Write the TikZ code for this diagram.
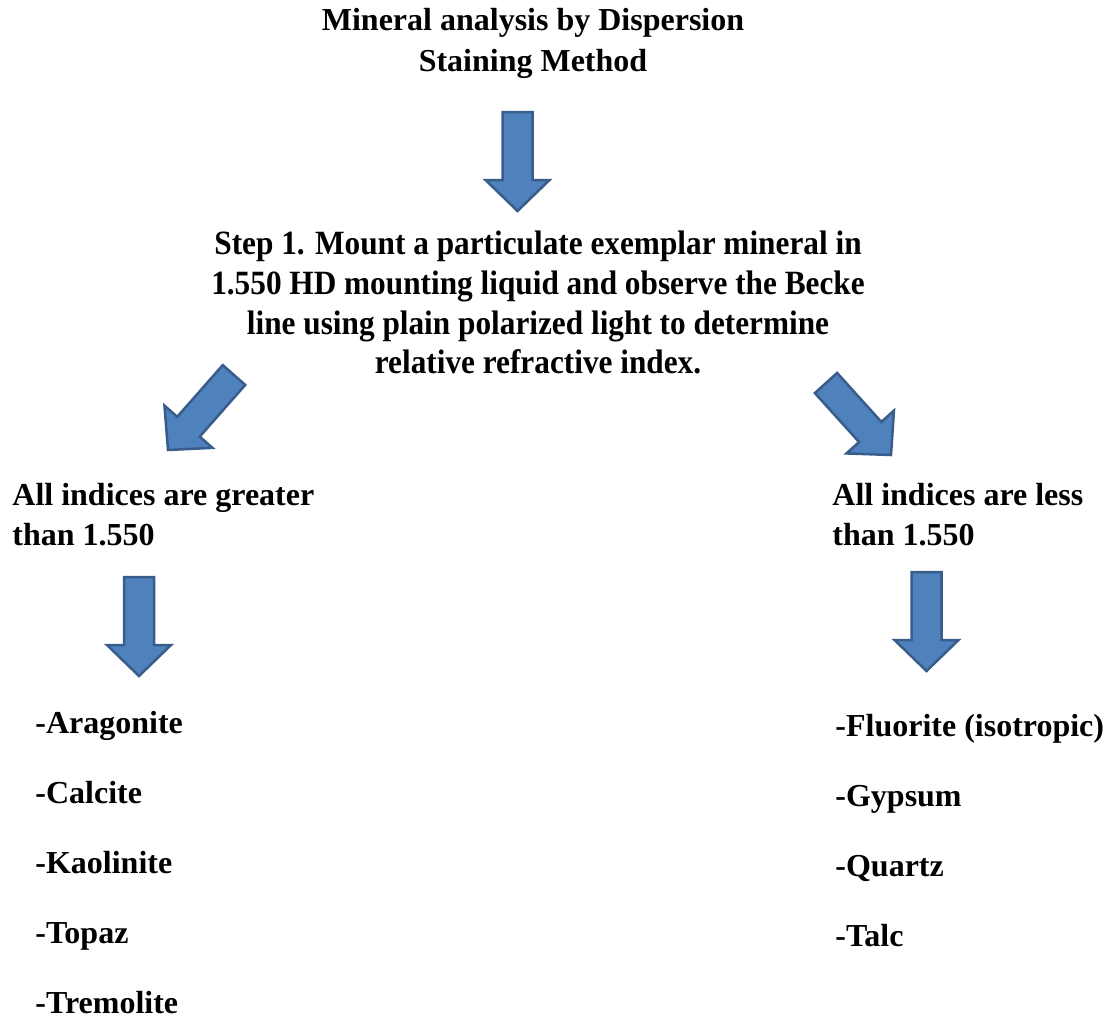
\documentclass[tikz,border=0pt]{standalone}
\usepackage{fontspec}
\setmainfont{Liberation Serif}
\newfontfamily\stepfont{Liberation Serif}[FakeStretch=0.92]
\usetikzlibrary{calc}
\definecolor{arrowfill}{HTML}{4F81BD}
\definecolor{arrowline}{HTML}{385D8A}

\begin{document}
\begin{tikzpicture}[x=0.5pt,y=-0.5pt]
        \tikzstyle{heading}=[inner sep=0pt, align=center, font=\fontsize{16}{20.5}\selectfont\bfseries]
        \tikzstyle{steptext}=[inner sep=0pt, align=center, font=\stepfont\fontsize{17}{19.8}\selectfont\bfseries]
        \tikzstyle{branch}=[inner sep=0pt, align=left, anchor=north west, font=\fontsize{16}{20}\selectfont\bfseries]
        \tikzstyle{item}=[inner sep=0pt, anchor=base west, font=\fontsize{16}{20}\selectfont\bfseries]
        \tikzstyle{blockarrow}=[fill=arrowfill, draw=arrowline, line width=1.25pt]
        \useasboundingbox (0,0) rectangle (1109,1018);

        \node[heading, anchor=north] (title) at (533,8) {Mineral analysis by Dispersion\\Staining Method};
        \node[steptext, anchor=north] (step) at (538,231) {Step 1. Mount a particulate exemplar mineral in\\1.550 HD mounting liquid and observe the Becke\\line using plain polarized light to determine\\relative refractive index.};

        \node[branch] (greater) at (12,483) {All indices are greater\\than 1.550};
        \node[branch] (less) at (832,483) {All indices are less\\than 1.550};

        \foreach \name [count=\i] in {Aragonite,Calcite,Kaolinite,Topaz,Tremolite}
            \node[item] (G-\i) at (35,663+70*\i) {-\name};
        \foreach \name [count=\i] in {Fluorite (isotropic),Gypsum,Quartz,Talc}
            \node[item] (L-\i) at (835,666+70*\i) {-\name};

        % tails and tips of the block arrows
        \coordinate (title-tail) at (517.5,112);
        \coordinate (title-tip) at (517.5,211);
        \coordinate (greater-tail) at (234,375);
        \coordinate (greater-tip) at (168,450);
        \coordinate (less-tail) at (826,383);
        \coordinate (less-tip) at (891,455);
        \coordinate (G-tail) at (139,577);
        \coordinate (G-tip) at (139,676);
        \coordinate (L-tail) at (926.5,572);
        \coordinate (L-tip) at (926.5,671);

        \foreach \a/\b in {title-tail/title-tip, greater-tail/greater-tip, less-tail/less-tip, G-tail/G-tip, L-tail/L-tip}
        {
            \coordinate (c) at ($(\b)!15.5pt!(\a)$);
            \draw[blockarrow] ($(\a)!7.5pt!90:(\b)$) -- ($(c)!7.5pt!90:(\b)$) -- ($(c)!16pt!90:(\b)$)
                -- (\b) -- ($(c)!16pt!-90:(\b)$) -- ($(c)!7.5pt!-90:(\b)$) -- ($(\a)!7.5pt!-90:(\b)$) -- cycle;
        }
\end{tikzpicture}
\end{document}
